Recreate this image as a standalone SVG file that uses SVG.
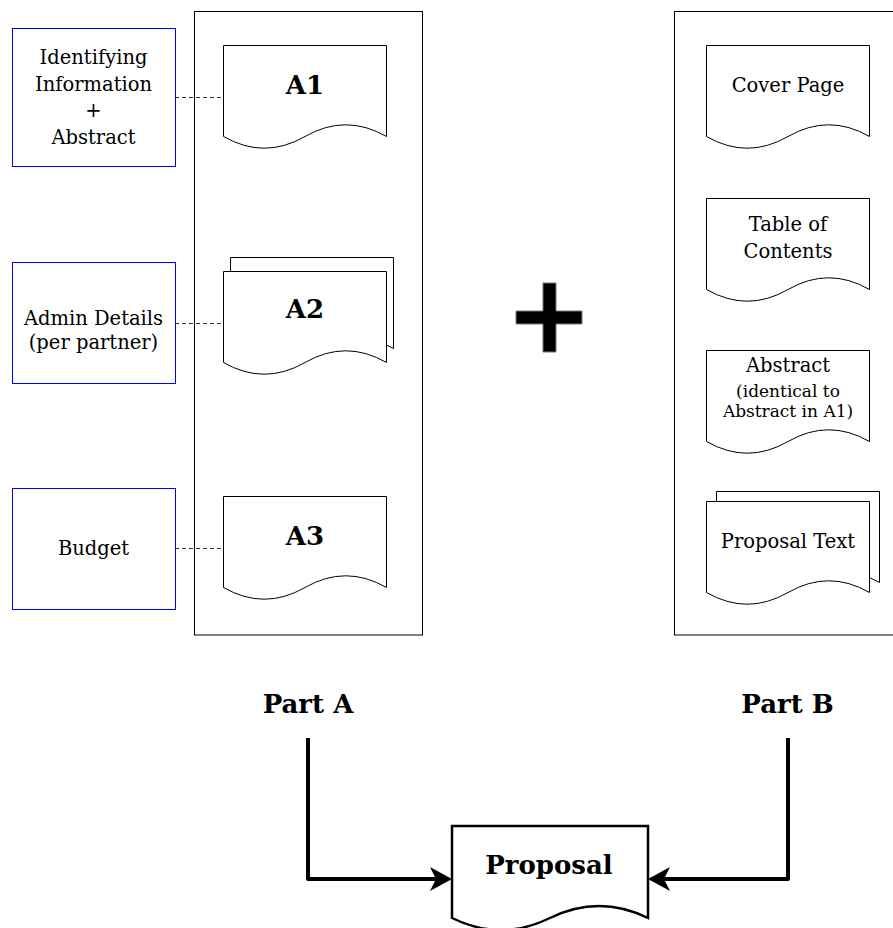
<svg xmlns="http://www.w3.org/2000/svg" xmlns:xlink="http://www.w3.org/1999/xlink" width="893" height="928" viewBox="0 0 893 928">
<style>
text{font-family:"DejaVu Serif","Liberation Serif",serif;fill:#000;text-anchor:middle}
.r{font-size:19.5px}
.s{font-size:17px}
.b{font-size:26px;font-weight:bold}
.blue{fill:#fff;stroke:#0000ff;stroke-width:1}
.cont{fill:#fff;stroke:#000;stroke-width:1}
.doc{fill:#fff;stroke:#000;stroke-width:1}
.dash{stroke:#333;stroke-width:1;stroke-dasharray:4 3;fill:none}
.thick{stroke:#000;stroke-width:4;fill:none;stroke-linejoin:round}
</style>
<defs>
<path id="docp" d="M0,0 H163 V91 Q122.25,67.6 81.5,91 Q40.75,114.4 0,91 Z"/>
<marker id="arr" viewBox="0 0 22 24" refX="10" refY="12" markerWidth="22" markerHeight="24" markerUnits="userSpaceOnUse" orient="auto">
<path d="M0,0 L22,12 L0,24 L6,12 Z" fill="#000"/>
</marker>
</defs>
<rect width="893" height="928" fill="#fff"/>

<g id="partA-container"><rect class="cont" x="194.5" y="11.5" width="228" height="623.5"/></g>
<g id="partB-container"><rect class="cont" x="674.5" y="11.5" width="228" height="623.5"/></g>

<g id="connectors">
<line class="dash" x1="175" y1="97.5" x2="223" y2="97.5"/>
<line class="dash" x1="175" y1="323.5" x2="223" y2="323.5"/>
<line class="dash" x1="175" y1="548.5" x2="223" y2="548.5"/>
<polyline class="thick" points="308,738 308,879 440,879" marker-end="url(#arr)"/>
<polyline class="thick" points="788,738 788,879 660,879" marker-end="url(#arr)"/>
</g>

<g id="box-identifying">
<rect class="blue" x="12.5" y="28.5" width="163" height="138"/>
<text class="r" x="93.5" y="64">Identifying</text>
<text class="r" x="93.5" y="90.5">Information</text>
<text class="r" x="93.5" y="117">+</text>
<text class="r" x="93.5" y="143.5">Abstract</text>
</g>
<g id="box-admin">
<rect class="blue" x="12.5" y="262.5" width="163" height="121"/>
<text class="r" x="93.5" y="325">Admin Details</text>
<text class="r" x="93.5" y="349">(per partner)</text>
</g>
<g id="box-budget">
<rect class="blue" x="12.5" y="488.5" width="163" height="121"/>
<text class="r" x="93.5" y="555">Budget</text>
</g>

<g id="doc-A1">
<use xlink:href="#docp" class="doc" x="223.5" y="45.5"/>
<text class="b" x="305" y="94">A1</text>
</g>
<g id="doc-A2">
<use xlink:href="#docp" class="doc" x="230.5" y="257.5"/>
<use xlink:href="#docp" class="doc" x="223.5" y="271.5"/>
<text class="b" x="305" y="318">A2</text>
</g>
<g id="doc-A3">
<use xlink:href="#docp" class="doc" x="223.5" y="496.5"/>
<text class="b" x="305" y="545">A3</text>
</g>

<g id="plus">
<path d="M543,283 H556 V311 H582 V324 H556 V352 H543 V324 H516 V311 H543 Z" fill="#000" stroke="#777" stroke-width="1"/>
</g>

<g id="doc-cover">
<use xlink:href="#docp" class="doc" x="706.5" y="45.5"/>
<text class="r" x="788" y="92">Cover Page</text>
</g>
<g id="doc-toc">
<use xlink:href="#docp" class="doc" x="706.5" y="198.5"/>
<text class="r" x="788" y="231">Table of</text>
<text class="r" x="788" y="258">Contents</text>
</g>
<g id="doc-abstract">
<use xlink:href="#docp" class="doc" x="706.5" y="350.5"/>
<text class="r" x="788" y="371.5">Abstract</text>
<text class="s" x="788" y="396.5">(identical to</text>
<text class="s" x="788" y="416.5">Abstract in A1)</text>
</g>
<g id="doc-proposal-text">
<use xlink:href="#docp" class="doc" x="716.5" y="491.5"/>
<use xlink:href="#docp" class="doc" x="706.5" y="501.5"/>
<text class="r" x="788" y="548">Proposal Text</text>
</g>

<g id="label-partA"><text class="b" x="308" y="713">Part A</text></g>
<g id="label-partB"><text class="b" x="787.5" y="713">Part B</text></g>

<g id="doc-proposal">
<path d="M452,826 H648 V918 Q599,894 550,918 Q501,942 452,918 Z" fill="#fff" stroke="#000" stroke-width="2.5"/>
<text class="b" x="549" y="874">Proposal</text>
</g>
</svg>
